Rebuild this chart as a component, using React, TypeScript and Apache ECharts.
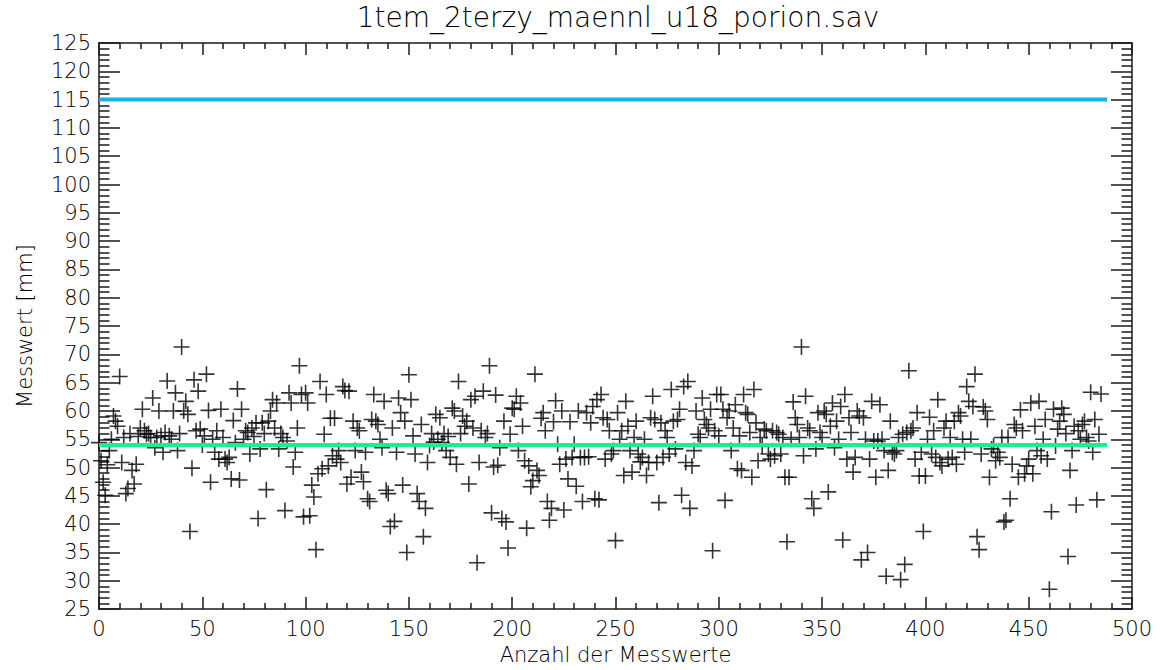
import React, { useEffect, useRef } from "react";
import * as echarts from "echarts";

const chartTitle = "1tem_2terzy_maennl_u18_porion.sav";
const xAxisName = "Anzahl der Messwerte";
const yAxisName = "Messwert [mm]";

const xMin = 0;
const xMax = 500;
const xInterval = 50;
const yMin = 25;
const yMax = 125;
const yInterval = 5;

const upperLimit = 115;
const meanValue = 54;
const lineExtent = 488;

const werte000 = [
  54.4, 51.2, 47.4, 45.1, 50.5, 53.0, 55.0, 59.1, 58.2, 57.3,
  66.1, 50.9, 55.3, 45.4, 46.3, 56.0, 49.5, 47.1, 50.6, 55.5,
  57.0, 60.3, 56.5, 55.9, 56.0, 55.3, 62.3, 53.5, 55.3, 60.0,
  55.6, 52.7, 56.2, 65.3, 55.6, 55.0, 60.0, 63.2, 53.0, 56.0,
  71.3, 60.0, 61.7, 59.4, 38.7, 49.9, 65.5, 56.5, 63.5,
  56.8, 54.0, 55.6, 66.5, 60.1, 47.4, 55.0, 52.7, 56.5, 51.5,
  60.3, 55.3, 51.5, 50.9, 51.8, 48.0, 58.3, 54.4, 63.9, 47.8,
  60.3, 55.0, 56.5, 56.2, 52.4, 57.0, 55.5, 57.9, 41.0, 53.3,
  57.9, 56.0, 46.1, 58.2, 60.0, 62.0, 57.0, 61.4, 53.3, 56.0,
  55.3, 42.4, 54.7, 63.2, 61.4, 50.1, 52.7, 57.0, 68.0, 62.9,
  41.3,
];

const werte100 = [
  63.2, 61.4, 41.5, 46.9, 44.8, 35.5, 48.9, 65.2, 49.8, 55.9,
  62.9, 50.3, 58.7, 52.1, 58.7, 51.5, 53.0, 50.9, 64.3, 63.6,
  47.1, 63.5, 48.3, 58.2, 53.0, 57.0, 56.5, 49.2, 47.5, 52.7,
  44.5, 44.0, 58.5, 62.9, 58.2, 57.6, 55.0, 53.5, 61.7, 46.0,
  45.4, 39.6, 57.0, 40.5, 52.7, 62.3, 59.7, 46.9, 58.2, 35.0,
  66.4,
  62.0, 55.6, 52.4, 45.4, 44.0, 57.6, 37.8, 42.8, 50.9, 53.9,
  56.0, 54.5, 59.4, 55.0, 58.8, 54.4, 56.0, 53.0, 55.5, 51.8,
  60.5, 60.0, 50.6, 65.2, 56.0, 59.1, 57.3, 58.2, 47.1, 62.0,
  57.0, 62.6, 33.2, 50.9, 56.5, 63.5, 55.3, 56.0, 68.0, 42.0,
  50.1, 62.8, 50.4, 53.5, 41.0, 58.2, 40.4, 35.8, 55.9, 60.5,
];

const werte200 = [
  60.3, 62.6, 53.0, 61.4, 57.3, 51.2, 39.3, 50.3, 46.6, 47.7,
  66.5, 49.5, 48.6, 58.7, 59.7, 56.5, 44.0, 40.7, 42.8, 58.1,
  61.8, 54.1, 50.6, 60.0, 42.5, 51.5, 48.0, 58.1, 51.8, 54.1,
  46.7, 60.0, 51.8, 44.0, 51.8, 59.7, 51.9, 57.9, 60.8, 44.5,
  62.0, 44.3, 62.9, 58.8, 51.5, 58.5, 56.5, 52.4, 53.0, 37.1,
  59.7, 55.0, 56.5, 48.6, 61.7, 57.3, 53.0, 49.2, 55.3, 58.2,
  52.4, 51.0, 51.8, 55.0, 48.6, 50.9, 58.8, 62.6, 58.5, 50.9,
  43.8, 57.9, 51.8, 56.5, 55.3, 52.4, 63.8, 58.2, 53.3, 58.5,
  60.3, 45.1, 64.3, 50.9, 65.2, 42.8, 50.3, 53.0, 60.0, 55.9,
  55.3, 62.3, 58.5, 57.6, 57.0, 60.3, 35.3, 56.5, 62.9,
];

const werte300 = [
  55.6, 62.9, 60.3, 44.2, 58.8, 60.0, 53.0, 57.0, 61.1, 49.8,
  55.6, 49.5, 62.9, 59.7, 59.4, 56.2, 48.3, 63.8, 57.9, 51.2,
  55.3, 53.8, 56.8, 56.5, 52.4, 51.5, 56.5, 52.1, 56.2, 55.9,
  52.4, 55.3, 48.3, 36.9, 48.3, 55.0, 61.6, 58.8, 57.6, 55.3,
  71.3, 52.1, 62.6, 57.0, 56.5, 44.5, 42.8, 53.3, 59.7, 56.2,
  55.3, 60.0, 59.4, 45.7, 57.3, 61.4, 53.5, 58.2, 55.0, 60.8,
  37.2, 62.9, 51.5, 58.8, 56.2, 49.2, 51.8, 60.0, 59.1, 33.7,
  58.8, 55.0, 35.0, 51.5, 61.7, 54.7, 48.3, 54.7, 61.1, 55.0,
  53.0, 30.8, 49.5, 58.2, 52.7, 52.4, 53.0, 55.3, 30.2, 55.9,
  32.9, 56.2, 67.1, 56.5, 57.0, 51.5, 59.7, 48.5, 52.7, 38.7,
  48.5,
];

const werte400 = [
  55.0, 58.9, 52.4, 56.5, 51.8, 62.0, 50.9, 50.3, 57.0, 58.2,
  51.5, 55.3, 51.8, 58.2, 50.6, 59.7, 59.1, 55.0, 52.7, 64.3,
  61.7, 55.0, 60.8, 66.5, 37.8, 35.5, 52.4, 60.7, 60.0, 58.5,
  48.3, 53.3, 53.8, 51.2, 52.7, 51.8, 55.3, 40.4, 40.7, 55.3,
  44.5, 50.6, 57.6, 57.0, 48.3, 60.2, 56.5, 48.9, 50.3, 51.5,
  61.4,
  48.9, 57.3, 53.0, 61.7, 52.1, 55.0, 58.5, 51.5, 28.5, 42.2,
  60.3, 53.8, 56.8, 58.2, 60.5, 59.4, 56.0, 34.3, 49.5, 53.0,
  57.3, 43.4, 56.5, 55.0, 57.6, 58.2, 55.3, 54.7, 63.3, 52.7,
  58.5, 44.3, 55.9, 63.0,
];

const messwerte = [...werte000, ...werte100, ...werte200, ...werte300, ...werte400];

const FONT = "DejaVu Sans";
const INK = "#1a1a1a";
const TEXT = "#000000";
const WEIGHT = 200;

export default function App() {
  const ref = useRef<HTMLDivElement>(null);

  useEffect(() => {
    if (!ref.current) return;
    const chart = echarts.init(ref.current, null, { renderer: "svg" });

    const axisCommon = {
      type: "value" as const,
      axisLine: { show: true, onZero: false, lineStyle: { color: INK, width: 1.5 } },
      splitLine: { show: false },
    };

    const xBase = {
      ...axisCommon,
      min: xMin,
      max: xMax,
      interval: xInterval,
      axisTick: { show: true, inside: true, length: 12, lineStyle: { color: INK, width: 1.5 } },
      minorTick: { show: true, splitNumber: 5, length: 6, lineStyle: { color: INK, width: 1.5 } },
    };
    const yBase = {
      ...axisCommon,
      min: yMin,
      max: yMax,
      interval: yInterval,
      axisTick: { show: true, inside: true, length: 21, lineStyle: { color: INK, width: 1.5 } },
      minorTick: { show: true, splitNumber: 5, length: 10.5, lineStyle: { color: INK, width: 1.5 } },
    };

    const plus = "path://M0,8 L16,8 M8,0 L8,16";

    chart.setOption({
      animation: false,
      backgroundColor: "#ffffff",
      title: {
        text: chartTitle,
        left: 613,
        textAlign: "center",
        top: -2,
        textStyle: { fontFamily: FONT, fontSize: 28, fontWeight: WEIGHT, color: TEXT },
      },
      grid: { left: 99, right: 28, top: 43, bottom: 55, containLabel: false },
      xAxis: [
        {
          ...xBase,
          position: "bottom",
          name: xAxisName,
          nameLocation: "middle",
          nameGap: 32,
          nameTextStyle: { fontFamily: FONT, fontSize: 21, fontWeight: WEIGHT, color: TEXT },
          axisLabel: { show: true, margin: 9, fontFamily: FONT, fontSize: 21, fontWeight: WEIGHT, color: TEXT },
        },
        {
          ...xBase,
          position: "top",
          axisLabel: { show: false },
        },
      ],
      yAxis: [
        {
          ...yBase,
          position: "left",
          name: yAxisName,
          nameLocation: "middle",
          nameGap: 64,
          nameRotate: 90,
          nameTextStyle: { fontFamily: FONT, fontSize: 21, fontWeight: WEIGHT, color: TEXT },
          axisLabel: { show: true, margin: 8, fontFamily: FONT, fontSize: 21, fontWeight: WEIGHT, color: TEXT },
        },
        {
          ...yBase,
          position: "right",
          axisLabel: { show: false },
        },
      ],
      series: [
        {
          type: "scatter",
          xAxisIndex: 0,
          yAxisIndex: 0,
          symbol: plus,
          symbolSize: 16,
          itemStyle: { color: "rgba(0,0,0,0)", borderColor: "#000", borderWidth: 1.6 },
          data: messwerte.map((v, i) => [i, v]),
          z: 2,
        },
        {
          type: "line",
          xAxisIndex: 0,
          yAxisIndex: 0,
          symbol: "none",
          lineStyle: { color: "#12b2ee", width: 4 },
          data: [[0, upperLimit], [lineExtent, upperLimit]],
          z: 5,
        },
        {
          type: "line",
          xAxisIndex: 0,
          yAxisIndex: 0,
          symbol: "none",
          lineStyle: { color: "#16f08e", width: 4 },
          data: [[0, meanValue], [lineExtent, meanValue]],
          z: 5,
        },
      ],
    });

    return () => chart.dispose();
  }, []);

  return (
    <div
      ref={ref}
      style={{ position: "fixed", left: 0, top: 0, width: 1160, height: 670, background: "#fff" }}
    />
  );
}
